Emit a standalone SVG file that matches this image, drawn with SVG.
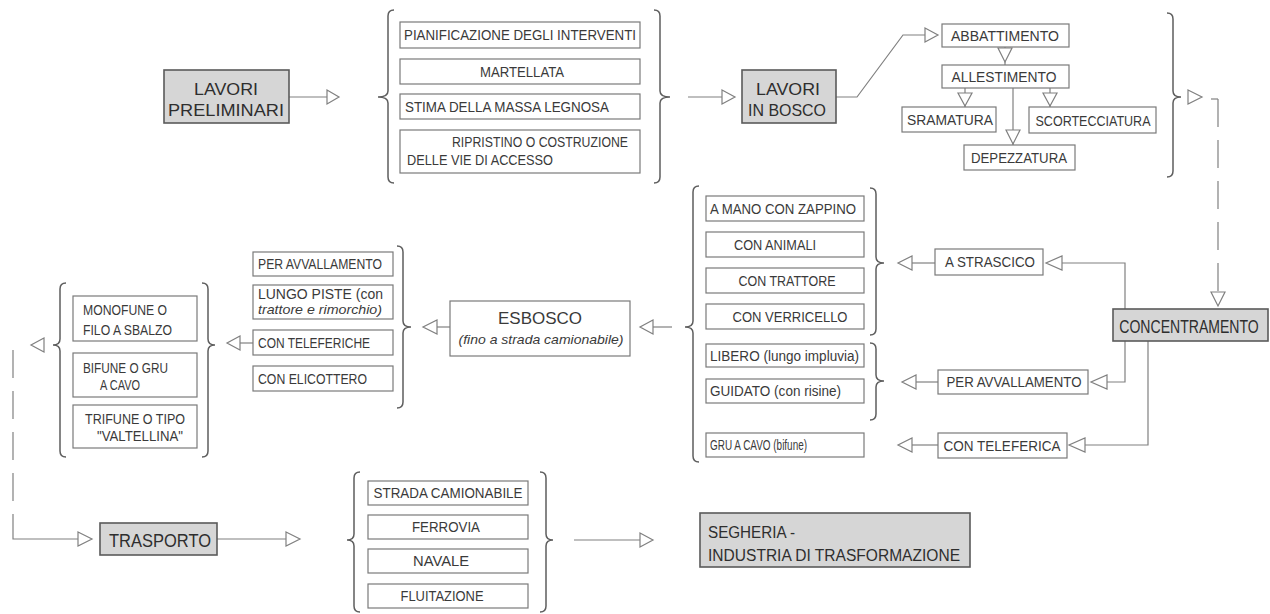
<svg xmlns="http://www.w3.org/2000/svg" width="1270" height="614" viewBox="0 0 1270 614">
<style>
.box{fill:#fff;stroke:#7a7a7a;stroke-width:1.2}
.main{fill:#d6d6d6;stroke:#5a5a5a;stroke-width:1.6}
text{font-family:"Liberation Sans Narrow","Liberation Sans",Arial,sans-serif;font-size:14px;fill:#3a3a3a}
.big{font-size:17px;fill:#2e2e2e}
.it{font-style:italic;font-size:13px}
.m{text-anchor:middle}
.ln{fill:none;stroke:#808080;stroke-width:1.2}
.ah{fill:#fff;stroke:#808080;stroke-width:1.2}
.br{fill:none;stroke:#5e5e5e;stroke-width:1.5}
.dash{stroke-dasharray:28 13}
</style>
<rect width="1270" height="614" fill="#fff"/>
<g id="connectors">
  <path class="ln" d="M289,97 H327"/><polygon class="ah" points="327,90 339,97 327,104"/>
  <path class="br" d="M394,10 Q388,10 388,16 L388,91 Q388,97 378,97 Q388,97 388,103 L388,177 Q388,183 394,183"/>
  <path class="br" d="M654,10 Q660,10 660,16 L660,91 Q660,97 670,97 Q660,97 660,103 L660,177 Q660,183 654,183"/>
  <path class="ln" d="M688,97 H722"/><polygon class="ah" points="722,90 735,97 722,104"/>
  <path class="ln" d="M836,97 H857 L903,35 H925"/><polygon class="ah" points="925,28 938,35 925,42"/>
  <path class="ln" d="M1005,47 V65"/><polygon class="ah" points="998,48 1012,48 1005,62"/>
  <path class="ln" d="M965,88 V107"/><polygon class="ah" points="958,93 972,93 965,106"/>
  <path class="ln" d="M1013,88 V145"/><polygon class="ah" points="1006,130 1020,130 1013,144"/>
  <path class="ln" d="M1050,88 V107"/><polygon class="ah" points="1043,93 1057,93 1050,106"/>
  <path class="br" d="M1167,13 Q1173,13 1173,19 L1173,91 Q1173,97 1181,97 Q1173,97 1173,103 L1173,171 Q1173,177 1167,177"/>
  <polygon class="ah" points="1188,90 1202,97 1188,104"/>
  <path class="ln" d="M1211,99 H1218"/>
  <path class="ln dash" d="M1218,99 V292"/>
  <polygon class="ah" points="1211,292 1225,292 1218,306"/>
  <path class="ln" d="M1062,263 H1125 V382 H1107"/>
  <polygon class="ah" points="1062,256 1062,270 1046,263"/>
  <polygon class="ah" points="1107,375 1107,389 1091,382"/>
  <path class="ln" d="M1148,341 V445 H1085"/>
  <polygon class="ah" points="1085,438 1085,452 1069,445"/>
  <path class="ln" d="M912,263 H935"/><polygon class="ah" points="912,256 912,270 898,263"/>
  <path class="ln" d="M916,382 H938"/><polygon class="ah" points="916,375 916,389 902,382"/>
  <path class="ln" d="M912,445 H938"/><polygon class="ah" points="912,438 912,452 898,445"/>
  <path class="br" d="M870,188 Q876,188 876,194 L876,257 Q876,263 884,263 Q876,263 876,269 L876,329 Q876,335 870,335"/>
  <path class="br" d="M870,343 Q876,343 876,349 L876,375 Q876,381 884,381 Q876,381 876,387 L876,414 Q876,420 870,420"/>
  <path class="br" d="M699,186 Q693,186 693,192 L693,321 Q693,327 685,327 Q693,327 693,333 L693,456 Q693,462 699,462"/>
  <path class="ln" d="M653,327 H672"/><polygon class="ah" points="653,320 653,334 640,327"/>
  <path class="ln" d="M437,327 H450"/><polygon class="ah" points="437,320 437,334 423,327"/>
  <path class="br" d="M397,246 Q403,246 403,252 L403,321 Q403,327 411,327 Q403,327 403,333 L403,402 Q403,408 397,408"/>
  <path class="ln" d="M240,343 H253"/><polygon class="ah" points="240,336 240,350 227,343"/>
  <path class="br" d="M202,283 Q208,283 208,289 L208,339 Q208,345 215,345 Q208,345 208,351 L208,451 Q208,457 202,457"/>
  <path class="br" d="M66,283 Q60,283 60,289 L60,339 Q60,345 53,345 Q60,345 60,351 L60,451 Q60,457 66,457"/>
  <polygon class="ah" points="44,338 44,352 31,345"/>
  <path class="ln dash" d="M13,350 V528"/>
  <path class="ln" d="M13,528 V539 H78"/><polygon class="ah" points="78,532 92,539 78,546"/>
  <path class="ln" d="M217,539 H286"/><polygon class="ah" points="286,532 300,539 286,546"/>
  <path class="br" d="M360,472 Q354,472 354,478 L354,534 Q354,540 347,540 Q354,540 354,546 L354,606 Q354,612 360,612"/>
  <path class="br" d="M540,472 Q546,472 546,478 L546,534 Q546,540 553,540 Q546,540 546,546 L546,606 Q546,612 540,612"/>
  <path class="ln" d="M574,540 H640"/><polygon class="ah" points="640,533 653,540 640,547"/>
</g>
<g id="lavori-preliminari">
  <rect class="main" x="164" y="70" width="125" height="53"/>
  <text class="big m" x="226" y="95" textLength="64" lengthAdjust="spacingAndGlyphs">LAVORI</text>
  <text class="big m" x="226" y="116" textLength="116" lengthAdjust="spacingAndGlyphs">PRELIMINARI</text>
</g>
<g id="pianificazione">
  <rect class="box" x="400" y="22" width="240" height="26"/>
  <text class="m" x="520" y="40" textLength="232" lengthAdjust="spacingAndGlyphs">PIANIFICAZIONE DEGLI INTERVENTI</text>
</g>
<g id="martellata">
  <rect class="box" x="400" y="59" width="240" height="25"/>
  <text class="m" x="522" y="77" textLength="84" lengthAdjust="spacingAndGlyphs">MARTELLATA</text>
</g>
<g id="stima">
  <rect class="box" x="400" y="94" width="240" height="25"/>
  <text x="405" y="112" textLength="204" lengthAdjust="spacingAndGlyphs">STIMA DELLA MASSA LEGNOSA</text>
</g>
<g id="ripristino">
  <rect class="box" x="400" y="130" width="240" height="43"/>
  <text x="452" y="147" textLength="176" lengthAdjust="spacingAndGlyphs">RIPRISTINO O COSTRUZIONE</text>
  <text x="407" y="165" textLength="146" lengthAdjust="spacingAndGlyphs">DELLE VIE DI ACCESSO</text>
</g>
<g id="lavori-in-bosco">
  <rect class="main" x="742" y="70" width="94" height="53"/>
  <text class="big m" x="788" y="95" textLength="64" lengthAdjust="spacingAndGlyphs">LAVORI</text>
  <text class="big m" x="787" y="116" textLength="78" lengthAdjust="spacingAndGlyphs">IN BOSCO</text>
</g>
<g id="abbattimento">
  <rect class="box" x="942" y="24" width="127" height="23"/>
  <text class="m" x="1005" y="41" textLength="108" lengthAdjust="spacingAndGlyphs">ABBATTIMENTO</text>
</g>
<g id="allestimento">
  <rect class="box" x="942" y="65" width="127" height="23"/>
  <text class="m" x="1004" y="82" textLength="105" lengthAdjust="spacingAndGlyphs">ALLESTIMENTO</text>
</g>
<g id="sramatura">
  <rect class="box" x="902" y="107" width="94" height="25"/>
  <text class="m" x="950" y="125" textLength="86" lengthAdjust="spacingAndGlyphs">SRAMATURA</text>
</g>
<g id="scortecciatura">
  <rect class="box" x="1029" y="107" width="127" height="26"/>
  <text class="m" x="1093" y="126" textLength="115" lengthAdjust="spacingAndGlyphs">SCORTECCIATURA</text>
</g>
<g id="depezzatura">
  <rect class="box" x="964" y="145" width="111" height="25"/>
  <text class="m" x="1019" y="163" textLength="96" lengthAdjust="spacingAndGlyphs">DEPEZZATURA</text>
</g>
<g id="concentramento">
  <rect class="main" x="1113" y="309" width="155" height="32"/>
  <text class="big m" transform="translate(1189 333) scale(0.74 1)" style="font-size:19px">CONCENTRAMENTO</text>
</g>
<g id="a-strascico">
  <rect class="box" x="935" y="249" width="108" height="26"/>
  <text class="m" x="990" y="267" textLength="90" lengthAdjust="spacingAndGlyphs">A STRASCICO</text>
</g>
<g id="per-avvallamento-c">
  <rect class="box" x="938" y="370" width="150" height="24"/>
  <text class="m" x="1014" y="387" textLength="135" lengthAdjust="spacingAndGlyphs">PER AVVALLAMENTO</text>
</g>
<g id="con-teleferica">
  <rect class="box" x="938" y="433" width="129" height="25"/>
  <text class="m" x="1002" y="451" textLength="117" lengthAdjust="spacingAndGlyphs">CON TELEFERICA</text>
</g>
<g id="a-mano">
  <rect class="box" x="706" y="196" width="158" height="25"/>
  <text class="m" x="783" y="214" textLength="146" lengthAdjust="spacingAndGlyphs">A MANO CON ZAPPINO</text>
</g>
<g id="con-animali">
  <rect class="box" x="706" y="232" width="158" height="25"/>
  <text class="m" x="775" y="250" textLength="82" lengthAdjust="spacingAndGlyphs">CON ANIMALI</text>
</g>
<g id="con-trattore">
  <rect class="box" x="706" y="268" width="158" height="25"/>
  <text class="m" x="787" y="286" textLength="97" lengthAdjust="spacingAndGlyphs">CON TRATTORE</text>
</g>
<g id="con-verricello">
  <rect class="box" x="706" y="304" width="158" height="25"/>
  <text class="m" x="790" y="322" textLength="115" lengthAdjust="spacingAndGlyphs">CON VERRICELLO</text>
</g>
<g id="libero">
  <rect class="box" x="706" y="344" width="158" height="23"/>
  <text x="710" y="361" textLength="149" lengthAdjust="spacingAndGlyphs">LIBERO (lungo impluvia)</text>
</g>
<g id="guidato">
  <rect class="box" x="706" y="379" width="158" height="24"/>
  <text x="710" y="396" textLength="131" lengthAdjust="spacingAndGlyphs">GUIDATO (con risine)</text>
</g>
<g id="gru-a-cavo">
  <rect class="box" x="706" y="433" width="158" height="24"/>
  <text x="710" y="450" textLength="97" lengthAdjust="spacingAndGlyphs">GRU A CAVO (bifune)</text>
</g>
<g id="esbosco">
  <rect class="box" x="450" y="301" width="180" height="55"/>
  <text class="m" x="540" y="324" style="font-size:17px" textLength="84" lengthAdjust="spacingAndGlyphs">ESBOSCO</text>
  <text class="it m" x="541" y="344" textLength="165" lengthAdjust="spacingAndGlyphs">(fino a strada camionabile)</text>
</g>
<g id="per-avvallamento-e">
  <rect class="box" x="253" y="252" width="140" height="24"/>
  <text x="258" y="269" textLength="124" lengthAdjust="spacingAndGlyphs">PER AVVALLAMENTO</text>
</g>
<g id="lungo-piste">
  <rect class="box" x="253" y="285" width="140" height="34"/>
  <text x="258" y="299" textLength="125" lengthAdjust="spacingAndGlyphs">LUNGO PISTE (con</text>
  <text class="it" x="258" y="314" textLength="124" lengthAdjust="spacingAndGlyphs">trattore e rimorchio)</text>
</g>
<g id="con-teleferiche">
  <rect class="box" x="253" y="330" width="140" height="25"/>
  <text x="258" y="348" textLength="112" lengthAdjust="spacingAndGlyphs">CON TELEFERICHE</text>
</g>
<g id="con-elicottero">
  <rect class="box" x="253" y="366" width="140" height="25"/>
  <text x="258" y="384" textLength="109" lengthAdjust="spacingAndGlyphs">CON ELICOTTERO</text>
</g>
<g id="monofune">
  <rect class="box" x="73" y="296" width="124" height="45"/>
  <text x="83" y="315" textLength="84" lengthAdjust="spacingAndGlyphs">MONOFUNE O</text>
  <text x="83" y="335" textLength="89" lengthAdjust="spacingAndGlyphs">FILO A SBALZO</text>
</g>
<g id="bifune">
  <rect class="box" x="73" y="353" width="124" height="44"/>
  <text x="83" y="373" textLength="85" lengthAdjust="spacingAndGlyphs">BIFUNE O GRU</text>
  <text x="100" y="390" textLength="40" lengthAdjust="spacingAndGlyphs">A CAVO</text>
</g>
<g id="trifune">
  <rect class="box" x="73" y="405" width="124" height="43"/>
  <text x="85" y="424" textLength="100" lengthAdjust="spacingAndGlyphs">TRIFUNE O TIPO</text>
  <text x="97" y="441" textLength="86" lengthAdjust="spacingAndGlyphs">"VALTELLINA"</text>
</g>
<g id="trasporto">
  <rect class="main" x="100" y="523" width="117" height="32"/>
  <text class="big m" x="160" y="547" style="font-size:18px" textLength="102" lengthAdjust="spacingAndGlyphs">TRASPORTO</text>
</g>
<g id="strada">
  <rect class="box" x="368" y="481" width="160" height="24"/>
  <text class="m" x="448" y="498" textLength="149" lengthAdjust="spacingAndGlyphs">STRADA CAMIONABILE</text>
</g>
<g id="ferrovia">
  <rect class="box" x="368" y="515" width="160" height="24"/>
  <text class="m" x="446" y="532" textLength="68" lengthAdjust="spacingAndGlyphs">FERROVIA</text>
</g>
<g id="navale">
  <rect class="box" x="368" y="549" width="160" height="24"/>
  <text class="m" x="441" y="566" textLength="56" lengthAdjust="spacingAndGlyphs">NAVALE</text>
</g>
<g id="fluitazione">
  <rect class="box" x="368" y="584" width="160" height="24"/>
  <text class="m" x="442" y="601" textLength="83" lengthAdjust="spacingAndGlyphs">FLUITAZIONE</text>
</g>
<g id="segheria">
  <rect class="main" x="700" y="513" width="270" height="54"/>
  <text class="big" x="708" y="538" style="font-size:16px" textLength="87" lengthAdjust="spacingAndGlyphs">SEGHERIA -</text>
  <text class="big" x="708" y="561" style="font-size:16px" textLength="252" lengthAdjust="spacingAndGlyphs">INDUSTRIA DI TRASFORMAZIONE</text>
</g>
</svg>
